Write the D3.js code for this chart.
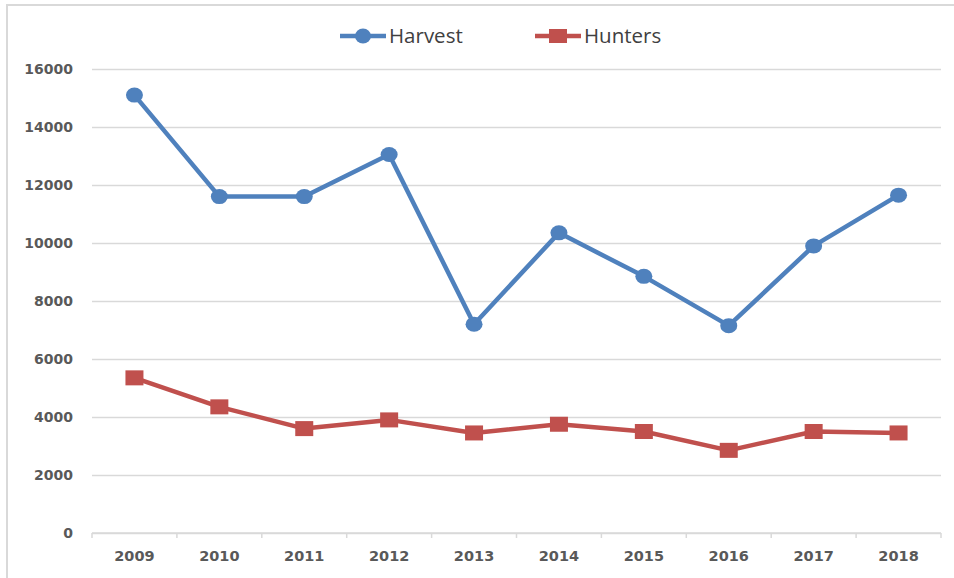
<!DOCTYPE html>
<html>
<head>
<meta charset="utf-8">
<script src="https://cdn.jsdelivr.net/npm/d3@7"></script>
<style>
  body { margin: 0; background: #fff; }
  svg { display: block; }
</style>
</head>
<body>
<div id="vis"></div>
<script>
// data
var years = ['2009', '2010', '2011', '2012', '2013', '2014', '2015', '2016', '2017', '2018'];
var harvest = [15100, 11600, 11600, 13050, 7200, 10350, 8850, 7150, 9900, 11650];
var hunters = [5350, 4350, 3600, 3900, 3450, 3750, 3500, 2850, 3500, 3450];
var yTicks = [0, 2000, 4000, 6000, 8000, 10000, 12000, 14000, 16000];

var width = 954, height = 578;
// plot area (note: "top" is reserved on window, so use plot* names)
var plotLeft = 92, plotRight = 941, plotTop = 69, plotBottom = 533;
var blue = '#4f81bd', red = '#c0504d', grid = '#d9d9d9', txt = '#595959';

var svg = d3.select('#vis').append('svg')
  .attr('width', width)
  .attr('height', height);

// outer chart frame
svg.append('rect')
  .attr('x', 7).attr('y', 5)
  .attr('width', width).attr('height', height)
  .attr('fill', 'none')
  .attr('stroke', grid)
  .attr('stroke-width', 2);

var x = d3.scaleBand().domain(years).range([plotLeft, plotRight]).padding(0);
var y = d3.scaleLinear().domain([0, 16000]).range([plotBottom, plotTop]);
var cx = function(d, i) { return x(years[i]) + x.bandwidth() / 2; };

// gridlines + y labels
var yAxis = d3.axisLeft(y)
  .tickValues(yTicks)
  .tickSize(-(plotRight - plotLeft))
  .tickPadding(19)
  .tickFormat(d3.format('d'));

var gy = svg.append('g')
  .attr('transform', 'translate(' + plotLeft + ',0)')
  .call(yAxis);
gy.select('.domain').remove();
gy.selectAll('.tick line').attr('stroke', grid).attr('stroke-width', 1.5);
gy.selectAll('.tick text')
  .attr('fill', txt)
  .style('font-family', 'DejaVu Sans')
  .style('font-weight', 'bold')
  .style('font-size', '14px');

// x axis with category boundary ticks
var gx = svg.append('g')
  .attr('transform', 'translate(0,' + plotBottom + ')');
gx.append('line')
  .attr('x1', plotLeft).attr('x2', plotRight)
  .attr('stroke', grid).attr('stroke-width', 1.5);
gx.selectAll('.bound')
  .data(years.concat(['end']))
  .enter().append('line')
  .attr('x1', function(d, i) { return plotLeft + i * x.bandwidth(); })
  .attr('x2', function(d, i) { return plotLeft + i * x.bandwidth(); })
  .attr('y1', 0).attr('y2', 5)
  .attr('stroke', grid).attr('stroke-width', 1.5);
gx.selectAll('.lbl')
  .data(years)
  .enter().append('text')
  .attr('x', function(d) { return x(d) + x.bandwidth() / 2; })
  .attr('y', 28)
  .attr('text-anchor', 'middle')
  .attr('fill', txt)
  .style('font-family', 'DejaVu Sans')
  .style('font-weight', 'bold')
  .style('font-size', '14.5px')
  .text(function(d) { return d; });

var line = d3.line()
  .x(cx)
  .y(function(d) { return y(d); });

// harvest
svg.append('path')
  .datum(harvest)
  .attr('d', line)
  .attr('fill', 'none')
  .attr('stroke', blue)
  .attr('stroke-width', 4.5)
  .attr('stroke-linejoin', 'round');
svg.selectAll('.hv')
  .data(harvest)
  .enter().append('ellipse')
  .attr('cx', cx)
  .attr('cy', function(d) { return y(d); })
  .attr('rx', 8.5).attr('ry', 7.5)
  .attr('fill', blue);

// hunters
svg.append('path')
  .datum(hunters)
  .attr('d', line)
  .attr('fill', 'none')
  .attr('stroke', red)
  .attr('stroke-width', 4.5)
  .attr('stroke-linejoin', 'round');
svg.selectAll('.hn')
  .data(hunters)
  .enter().append('rect')
  .attr('x', function(d, i) { return cx(d, i) - 9; })
  .attr('y', function(d) { return y(d) - 7.5; })
  .attr('width', 18).attr('height', 15)
  .attr('fill', red);

// legend
var legend = [
  {name: 'Harvest', color: blue, shape: 'circle', x: 340},
  {name: 'Hunters', color: red, shape: 'square', x: 535}
];
var lg = svg.selectAll('.legend')
  .data(legend)
  .enter().append('g')
  .attr('transform', function(d) { return 'translate(' + d.x + ',36)'; });
lg.append('line')
  .attr('x1', 0).attr('x2', 46)
  .attr('stroke', function(d) { return d.color; })
  .attr('stroke-width', 4.5);
lg.each(function(d) {
  var g = d3.select(this);
  if (d.shape === 'circle') {
    g.append('ellipse').attr('cx', 23).attr('rx', 8).attr('ry', 7.5).attr('fill', d.color);
  } else {
    g.append('rect').attr('x', 14).attr('y', -7).attr('width', 18).attr('height', 14).attr('fill', d.color);
  }
});
lg.append('text')
  .attr('x', 49)
  .attr('y', 7)
  .attr('fill', '#404040')
  .style('font-family', 'Open Sans')
  .style('font-size', '20.5px')
  .text(function(d) { return d.name; });
</script>
</body>
</html>
